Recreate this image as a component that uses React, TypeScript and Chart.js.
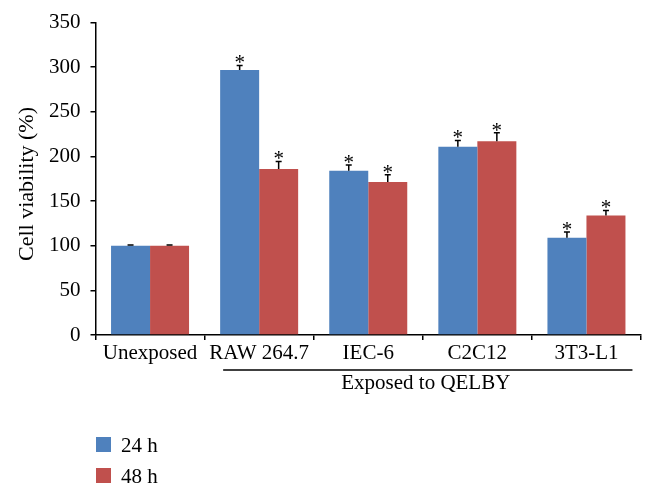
import React, { useEffect, useRef } from "react";
import { Chart, registerables } from "chart.js";

Chart.register(...registerables);

const categories = ["Unexposed", "RAW 264.7", "IEC-6", "C2C12", "3T3-L1"];
const series24 = [100, 297, 184, 211, 109];
const series48 = [100, 186, 171.5, 217, 134];
const err24 = [0.8, 5, 6.5, 7, 6.5];
const err48 = [0.8, 8.5, 8, 9.5, 5.5];
const star24 = [false, true, true, true, true];
const star48 = [false, true, true, true, true];
const yTicks = [0, 50, 100, 150, 200, 250, 300, 350];
const seriesLabels = ["24 h", "48 h"];
const groupLabel = "Exposed to QELBY";
const yTitle = "Cell viability (%)";

const BLUE = "#4F81BD";
const RED = "#C0504D";
const FONT = "'Liberation Serif', 'Times New Roman', serif";

export default function App() {
  const ref = useRef<HTMLCanvasElement | null>(null);

  useEffect(() => {
    if (!ref.current) return;
    const errs = [err24, err48];
    const stars = [star24, star48];

    const overlay = {
      id: "overlay",
      afterDatasetsDraw(chart: any) {
        const ctx = chart.ctx;
        const x = chart.scales.x;
        const y = chart.scales.y;
        ctx.save();
        // error bars + asterisks
        for (let d = 0; d < 2; d++) {
          const meta = chart.getDatasetMeta(d);
          meta.data.forEach((bar: any, i: number) => {
            const v = chart.data.datasets[d].data[i] as number;
            const top = y.getPixelForValue(v + errs[d][i]);
            const base = y.getPixelForValue(v);
            ctx.strokeStyle = "#000";
            ctx.lineWidth = 1.5;
            ctx.beginPath();
            ctx.moveTo(bar.x, base);
            ctx.lineTo(bar.x, top);
            ctx.moveTo(bar.x - 3, top);
            ctx.lineTo(bar.x + 3, top);
            ctx.stroke();
            if (stars[d][i]) {
              ctx.fillStyle = "#000";
              ctx.font = `21px ${FONT}`;
              ctx.textAlign = "center";
              ctx.textBaseline = "alphabetic";
              ctx.fillText("*", bar.x, top + 4);
            }
          });
        }
        // group underline
        const x1 = x.getPixelForValue(1) - 36;
        const x2 = x.getPixelForValue(4) + 46;
        ctx.strokeStyle = "#000";
        ctx.lineWidth = 1.5;
        ctx.beginPath();
        ctx.moveTo(x1, 370);
        ctx.lineTo(x2, 370);
        ctx.stroke();
        ctx.fillStyle = "#000";
        ctx.font = `21px ${FONT}`;
        ctx.textAlign = "center";
        ctx.textBaseline = "alphabetic";
        ctx.fillText(groupLabel, (x1 + x2) / 2 - 2, 389);
        // y title
        ctx.save();
        ctx.translate(27, 184);
        ctx.rotate(-Math.PI / 2);
        ctx.font = `22px ${FONT}`;
        ctx.textAlign = "center";
        ctx.textBaseline = "middle";
        ctx.fillText(yTitle, 0, 0);
        ctx.restore();
        // legend
        const colors = [BLUE, RED];
        ctx.font = `21px ${FONT}`;
        seriesLabels.forEach((lab, k) => {
          const ty = 437 + k * 31;
          ctx.fillStyle = colors[k];
          ctx.fillRect(96, ty, 15, 15);
          ctx.fillStyle = "#000";
          ctx.textAlign = "left";
          ctx.fillText(lab, 121, ty + 15);
        });
        ctx.restore();
      },
    };

    const chart = new Chart(ref.current, {
      type: "bar",
      data: {
        labels: categories,
        datasets: [
          { label: seriesLabels[0], data: series24, backgroundColor: BLUE },
          { label: seriesLabels[1], data: series48, backgroundColor: RED },
        ],
      },
      options: {
        animation: false,
        responsive: false,
        events: [],
        layout: { padding: { left: 0, right: 13, top: 22, bottom: 0 } },
        datasets: {
          bar: { categoryPercentage: 0.715, barPercentage: 1 },
        },
        plugins: {
          legend: { display: false },
          tooltip: { enabled: false },
        },
        scales: {
          x: {
            grid: {
              drawOnChartArea: false,
              drawTicks: true,
              tickLength: 5,
              color: "#000",
              lineWidth: 1.5,
            },
            border: { color: "#000", width: 1.5 },
            ticks: {
              color: "#000",
              font: { family: FONT, size: 21 },
              padding: 1,
              maxRotation: 0,
              autoSkip: false,
            },
            afterFit: (s: any) => {
              s.height = 494 - 335;
            },
          },
          y: {
            min: 0,
            max: 350,
            afterBuildTicks: (s: any) => {
              s.ticks = yTicks.map((v) => ({ value: v }));
            },
            grid: {
              drawOnChartArea: false,
              drawTicks: true,
              tickLength: 5,
              color: "#000",
              lineWidth: 1.5,
            },
            border: { color: "#000", width: 1.5 },
            ticks: {
              color: "#000",
              font: { family: FONT, size: 21 },
              padding: 10,
            },
            afterFit: (s: any) => {
              s.width = 95.5;
            },
          },
        },
      },
      plugins: [overlay],
    });
    return () => chart.destroy();
  }, []);

  return (
    <div style={{ position: "fixed", left: 0, top: 0, width: 654, height: 494, background: "#fff" }}>
      <canvas ref={ref} width={654} height={494} style={{ display: "block" }} />
    </div>
  );
}
